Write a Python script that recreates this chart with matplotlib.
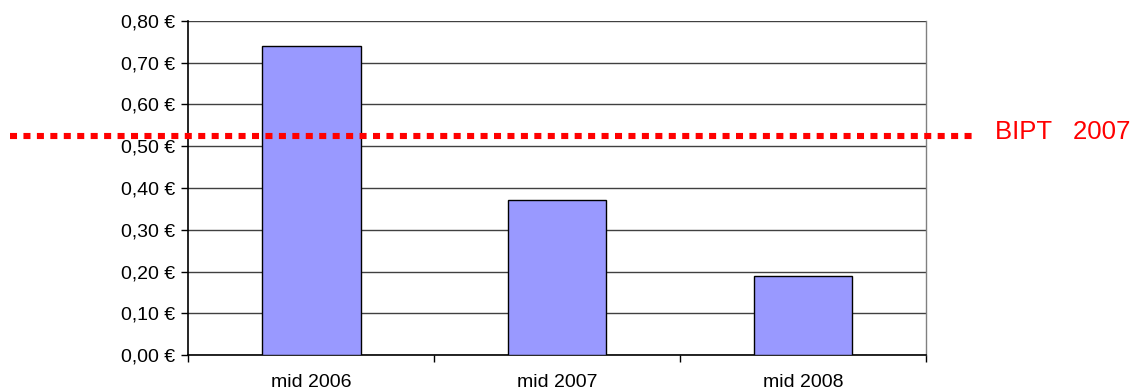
"""
plot.py

Bar chart of price per period (EUR) with the BIPT 2007 reference level
drawn as a red dotted line across the whole figure.
"""

import matplotlib
matplotlib.use("Agg")
import matplotlib.pyplot as plt
import matplotlib.transforms as mtransforms
from matplotlib.ticker import FixedLocator, FuncFormatter

# data
CATEGORIES = ["mid 2006", "mid 2007", "mid 2008"]
PRICES = [0.74, 0.372, 0.19]
BIPT_2007 = 0.525
REF_LABEL = "BIPT   2007"
Y_TICKS = [0.0, 0.1, 0.2, 0.3, 0.4, 0.5, 0.6, 0.7, 0.8]

BAR_COLOR = "#9999FF"
RED = "#FF0000"


def euro(v, _pos=None):
    return f"{v:.2f}".replace(".", ",") + " €"


def main():
    plt.rcParams.update({
        "font.family": ["Liberation Sans", "DejaVu Sans"],
        "font.size": 14,
    })

    fig = plt.figure(figsize=(11.36, 3.90), dpi=100)
    ax = fig.add_axes([0.1659, 0.0897, 0.8151 - 0.1659, 0.9462 - 0.0897])

    x = list(range(len(CATEGORIES)))
    ax.bar(x, PRICES, width=0.4, color=BAR_COLOR, edgecolor="black",
           linewidth=1.0, zorder=3)

    ax.set_xlim(-0.5, len(CATEGORIES) - 0.5)
    ax.set_ylim(0, 0.8)

    ax.yaxis.set_major_locator(FixedLocator(Y_TICKS))
    ax.yaxis.set_major_formatter(FuncFormatter(euro))
    ax.grid(axis="y", color="#404040", linewidth=1.0, zorder=0)
    ax.set_axisbelow(True)

    # category labels centred, tick marks on the category boundaries
    ax.set_xticks(x)
    ax.set_xticklabels(CATEGORIES)
    ax.set_xticks([i - 0.5 for i in range(len(CATEGORIES) + 1)], minor=True)
    ax.tick_params(axis="x", which="major", length=0, pad=13.5)
    ax.tick_params(axis="x", which="minor", length=5, width=1, color="black",
                   direction="out")
    ax.tick_params(axis="y", length=5, width=1, direction="out", pad=4.5)

    for side in ("left", "bottom"):
        ax.spines[side].set_color("black")
        ax.spines[side].set_linewidth(1.2)
    ax.spines["top"].set_visible(False)
    ax.spines["right"].set_color("#808080")
    ax.spines["right"].set_linewidth(1.0)

    # reference line runs past the plot area on both sides
    trans = mtransforms.blended_transform_factory(ax.transAxes, ax.transData)
    ax.plot([-0.242, 1.068], [BIPT_2007, BIPT_2007], transform=trans,
            color=RED, linewidth=4.4, linestyle=(0, (1.15, 1.05)),
            dash_capstyle="butt", solid_capstyle="butt",
            clip_on=False, zorder=5)
    ax.text(1.093, BIPT_2007 + 0.01, REF_LABEL, transform=trans,
            color=RED, fontsize=18.5, ha="left", va="center", clip_on=False)

    fig.savefig("out.png", dpi=100)


if __name__ == "__main__":
    main()
